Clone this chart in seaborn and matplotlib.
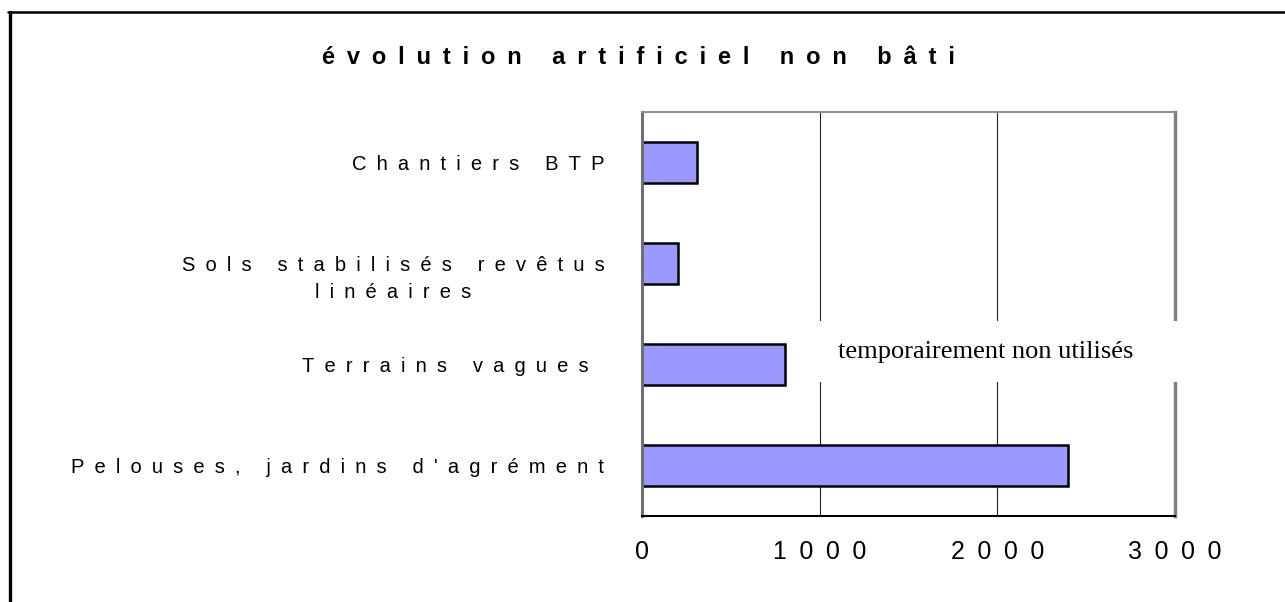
import matplotlib
matplotlib.use("Agg")
import matplotlib.pyplot as plt
import matplotlib.transforms as mtransforms
from matplotlib.lines import Line2D
from matplotlib.patches import Rectangle
import pandas as pd
import seaborn as sns

# data
categories = ["Chantiers BTP", "Sols stabilisés revêtus\nlinéaires", "Terrains vagues ", "Pelouses, jardins d'agrément"]
surfaces = [308, 201, 807, 2400]
x_ticks = [0, 1000, 2000, 3000]
title = "évolution artificiel non bâti"
note = "temporairement non utilisés"

SP = "\u2002"  # en space used as letter spacing


def spaced(s):
    return "\n".join(SP.join(line) for line in s.split("\n"))


df = pd.DataFrame({"cat": categories, "val": surfaces})

sns.set_style("white")
plt.rcParams["font.family"] = ["Liberation Sans", "DejaVu Sans"]
plt.rcParams["text.color"] = "black"
plt.rcParams["xtick.labelcolor"] = "black"
plt.rcParams["ytick.labelcolor"] = "black"

fig = plt.figure(figsize=(12.85, 6.02), dpi=100)
ax = fig.add_axes([0.4996, 0.1429, 0.4148, 0.6711])

sns.barplot(data=df, x="val", y="cat", orient="h", color="#9999FF",
            edgecolor="black", linewidth=1.8, width=0.41, saturation=1, ax=ax)

ax.set_xlim(0, 3000)
ax.set_ylim(3.5, -0.5)
ax.set_xlabel("")
ax.set_ylabel("")

ax.set_xticks(x_ticks)
ax.set_xticklabels([spaced(str(t)) for t in x_ticks], fontsize=18, color="black")
ax.tick_params(axis="x", length=7, width=1, color="black", pad=10, direction="out")

ax.set_yticks(range(len(categories)))
ax.set_yticklabels([spaced(c) for c in categories], fontsize=14.5, linespacing=1.5,
                   multialignment="center", color="black")
ax.tick_params(axis="y", which="major", length=0, pad=27)
ax.set_yticks([i - 0.5 for i in range(len(categories) + 1)], minor=True)
ax.tick_params(axis="y", which="minor", length=9, width=1, color="black", direction="out")

# push the two-line label a little down like the original
lab = ax.get_yticklabels()[1]
lab.set_transform(lab.get_transform() + mtransforms.ScaledTranslation(0, -10 / 100, fig.dpi_scale_trans))

ax.grid(axis="x", color="#222222", linewidth=0.8)
ax.grid(axis="y", visible=False)
ax.set_axisbelow(True)

for side in ["top", "right", "left", "bottom"]:
    ax.spines[side].set_visible(True)
ax.spines["top"].set_color("#909090")
ax.spines["top"].set_linewidth(1.5)
ax.spines["right"].set_color("#808080")
ax.spines["right"].set_linewidth(2.5)
ax.spines["left"].set_color("#707070")
ax.spines["left"].set_linewidth(2.2)
ax.spines["bottom"].set_color("black")
ax.spines["bottom"].set_linewidth(1.5)

# white label box that hides the grid, as in the source sheet
ax.add_patch(Rectangle((0.296, 0.332), 0.72, 0.151, transform=ax.transAxes,
                       facecolor="white", edgecolor="none", zorder=4, clip_on=False))
ax.text(0.644, 0.405, note, transform=ax.transAxes, ha="center", va="center",
        fontsize=19, family=["Liberation Serif", "DejaVu Serif"], zorder=5)

fig.text(0.497, 0.905, spaced(title), ha="center", va="center",
         fontsize=17, fontweight="bold")

# outer frame (only left and top edges are inside the picture)
fig.add_artist(Line2D([0.0075, 0.0075], [0.0, 0.98], transform=fig.transFigure,
                      color="black", linewidth=2.4))
fig.add_artist(Line2D([0.0062, 1.0], [0.98, 0.98], transform=fig.transFigure,
                      color="black", linewidth=1.8))

fig.savefig("out.png", dpi=100)
